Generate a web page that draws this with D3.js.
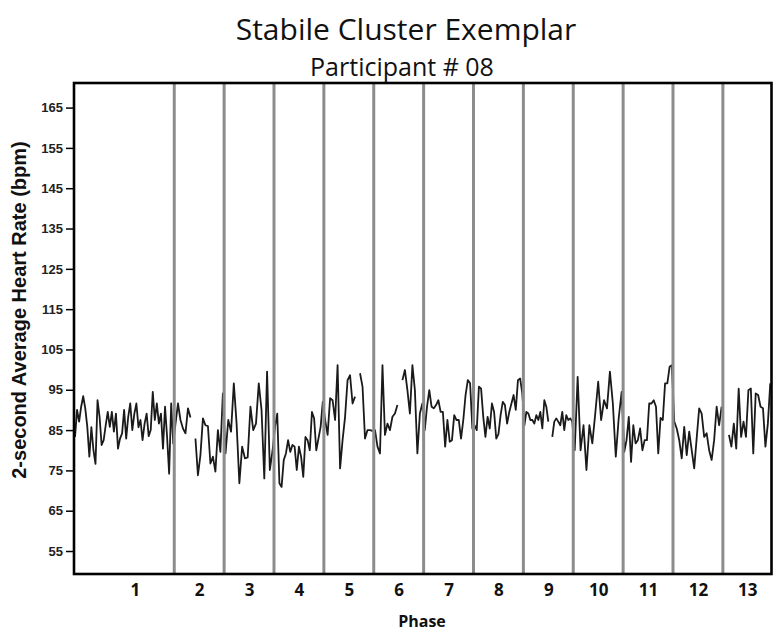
<!DOCTYPE html>
<html>
<head>
<meta charset="utf-8">
<script src="https://cdn.jsdelivr.net/npm/d3@7"></script>
<style>
  body { margin: 0; background: #fff; }
  svg { display: block; }
</style>
</head>
<body>
<div id="chart"></div>
<script>
// heart rate (bpm), one array per phase, null = no data
var phase1 = [83.3, 90.0, 87.1, 90.8, 93.4, 90.4, 85.8, 78.4, 85.7, 80.0, 76.6, 92.4, 88.3, 81.3, 82.5, 86.2, 89.5, 85.8, 89.5, 84.6, 89.1, 80.4, 82.9, 84.2, 90.0, 82.9, 88.3, 91.6, 85.0, 89.1, 91.6, 85.7, 87.5, 82.5, 86.6, 89.1, 83.5, 85.0, 94.5, 87.5, 91.6, 86.6, 89.1, 80.4, 90.8, 83.3, 74.2, 91.6, 81.7];
var phase2 = [86.6, 91.6, 87.5, 85.4, 84.2, 90.4, 88.1, null, 82.9, 73.8, 78.8, 87.9, 86.2, 86.0, 76.7, 78.4, 74.7, 85.0, 79.6, 94.1];
var phase3 = [79.2, 87.5, 84.6, 96.6, 86.6, 71.8, 80.9, 78.0, 78.2, 90.8, 85.0, 86.6, 96.6, 90.0, 73.0, 99.5, 75.1, 80.0];
var phase4 = [86.0, 89.1, 71.8, 70.9, 77.6, 79.2, 82.5, 79.6, 81.3, 80.9, 75.1, 80.9, 78.4, 73.4, 83.3, 82.5, 80.0, 89.5, 87.9, 80.0, 82.9, 85.8, 92.0];
var phase5 = [87.5, 83.8, 92.9, 92.4, 87.5, 101.1, 75.5, 82.5, 88.3, 97.4, 98.6, 91.6, 93.3, null, 99.1, 95.8, 82.9, 85.0, 85.0, 84.8];
var phase6 = [85.0, 80.9, 79.2, 101.1, 83.8, 86.6, 85.0, 88.3, 89.1, 91.2, null, 97.4, 99.9, 94.9, 89.1, 101.1, 94.9, 79.2, 89.1, 91.6];
var phase7 = [85.0, 90.8, 94.9, 90.8, 90.4, 91.2, 92.4, 89.5, 89.5, 80.9, 87.5, 82.1, 82.5, 88.7, 87.5, 87.5, 82.9, 87.5, 93.7, 97.4, 96.6, 85.4];
var phase8 = [86.2, 85.0, 95.8, 95.3, 88.3, 83.3, 88.3, 85.4, 91.6, 89.5, 82.9, 84.0, 88.7, 92.0, 91.2, 86.6, 89.5, 91.6, 93.7, 90.0, 97.4, 97.8, 94.1];
var phase9 = [86.2, 89.5, 89.1, 87.5, 87.5, 86.6, 88.7, 87.5, 89.5, 85.4, 92.4, 90.8, 87.1, null, 83.3, 87.1, 87.9, 87.1, 86.2, 89.5, 85.0, 88.7, 87.5, 87.9, 87.1];
var phase10 = [80.0, 98.2, 80.0, 86.2, 75.1, 86.2, 81.7, 89.1, 97.0, 87.5, 92.4, 90.4, 99.5, 91.6, 78.4, 88.0, 94.5];
var phase11 = [79.6, 82.5, 88.3, 77.1, 86.2, 81.7, 82.5, 85.4, 80.0, 82.5, 82.5, 91.6, 91.6, 92.4, 90.8, 79.2, 88.0, 87.5, 96.6, 96.6, 100.7, 101.1];
var phase12 = [87.1, 85.4, 82.5, 78.0, 85.8, 78.8, 84.6, 80.0, 75.5, 83.0, 90.4, 89.1, 83.3, 84.2, 80.0, 77.6, 82.5, 90.8, 86.2, 90.8];
var phase13 = [null, null, 83.8, 80.9, 86.6, 80.4, 95.3, 83.3, 87.1, 83.3, 94.9, 95.3, 79.2, 94.1, 93.7, 90.8, 90.4, 80.9, 86.6, 96.6];

// relative duration of each phase on the time axis
var phaseLength = [2.01, 1, 1, 1, 1, 1, 1, 1, 1, 1, 1, 1, 0.975];
var phaseLabels = ['1', '2', '3', '4', '5', '6', '7', '8', '9', '10', '11', '12', '13'];
var phaseLabelAt = [1.22, 2.51, 3.51, 4.51, 5.51, 6.51, 7.51, 8.51, 9.51, 10.51, 11.51, 12.51, 13.5];
var yTicks = [55, 65, 75, 85, 95, 105, 115, 125, 135, 145, 155, 165];

var width = 779, height = 635;
var plot = {left: 74, right: 771.5, top: 83, bottom: 574};

var phases = [phase1, phase2, phase3, phase4, phase5, phase6, phase7, phase8, phase9, phase10, phase11, phase12, phase13];
var edges = [0];
phaseLength.forEach(function(l) { edges.push(edges[edges.length - 1] + l); });

var points = [];
phases.forEach(function(vals, p) {
  var step = phaseLength[p] / vals.length;
  vals.forEach(function(v, i) {
    points.push({ t: edges[p] + (i + 0.5) * step, hr: v });
  });
});

var x = d3.scaleLinear().domain([0, edges[edges.length - 1]]).range([plot.left, plot.right]);
var y = d3.scaleLinear().domain([49.3, 171.1]).range([plot.bottom, plot.top]);

var svg = d3.select('#chart').append('svg')
    .attr('width', width).attr('height', height);

svg.append('rect').attr('width', width).attr('height', height).attr('fill', '#fff');

var line = d3.line()
    .defined(function(d) { return d.hr !== null; })
    .x(function(d) { return x(d.t); })
    .y(function(d) { return y(d.hr); });

svg.append('path').datum(points)
    .attr('d', line)
    .attr('fill', 'none')
    .attr('stroke', '#1a1a1a')
    .attr('stroke-width', 1.8)
    .attr('stroke-linejoin', 'round');

// phase separators
svg.selectAll('line.phase').data(edges.slice(1, edges.length - 1))
  .enter().append('line')
    .attr('class', 'phase')
    .attr('x1', function(d) { return x(d); })
    .attr('x2', function(d) { return x(d); })
    .attr('y1', plot.top).attr('y2', plot.bottom)
    .attr('stroke', '#8c8c8c')
    .attr('stroke-width', 3);

svg.append('rect')
    .attr('x', plot.left).attr('y', plot.top)
    .attr('width', plot.right - plot.left).attr('height', plot.bottom - plot.top)
    .attr('fill', 'none').attr('stroke', '#000').attr('stroke-width', 2.6);

var yAxis = svg.append('g')
    .attr('transform', 'translate(' + (plot.left - 1) + ',0)')
    .call(d3.axisLeft(y).tickValues(yTicks).tickSize(7).tickPadding(3));
yAxis.select('.domain').remove();
yAxis.selectAll('line').attr('stroke', '#000').attr('stroke-width', 1.5);
yAxis.selectAll('text')
    .attr('fill', '#222')
    .style('font-family', '"Liberation Sans", Arial, sans-serif')
    .style('font-weight', 'bold')
    .style('font-size', '13px');

var xAxis = svg.append('g')
    .attr('transform', 'translate(0,' + plot.bottom + ')')
    .call(d3.axisBottom(x).tickValues(phaseLabelAt)
      .tickFormat(function(d, i) { return phaseLabels[i]; })
      .tickSize(0).tickPadding(10));
xAxis.select('.domain').remove();
xAxis.selectAll('text')
    .attr('fill', '#111')
    .style('font-family', '"Open Sans", sans-serif')
    .style('font-weight', 'bold')
    .style('font-size', '17px');

svg.append('text')
    .attr('x', 406).attr('y', 40)
    .attr('text-anchor', 'middle')
    .style('font-family', '"Open Sans", sans-serif')
    .style('font-size', '30px')
    .attr('fill', '#111')
    .text('Stabile Cluster Exemplar');

svg.append('text')
    .attr('x', 402).attr('y', 76)
    .attr('text-anchor', 'middle')
    .style('font-family', '"Open Sans", sans-serif')
    .style('font-size', '25px')
    .attr('fill', '#111')
    .text('Participant # 08');

svg.append('text')
    .attr('x', 422).attr('y', 627)
    .attr('text-anchor', 'middle')
    .style('font-family', '"Open Sans", sans-serif')
    .style('font-weight', 'bold')
    .style('font-size', '16px')
    .attr('fill', '#111')
    .text('Phase');

svg.append('text')
    .attr('transform', 'translate(26,310) rotate(-90)')
    .attr('text-anchor', 'middle')
    .style('font-family', '"Liberation Sans", Arial, sans-serif')
    .style('font-weight', 'bold')
    .style('font-size', '20px')
    .attr('fill', '#111')
    .text('2-second Average Heart Rate (bpm)');
</script>
</body>
</html>
